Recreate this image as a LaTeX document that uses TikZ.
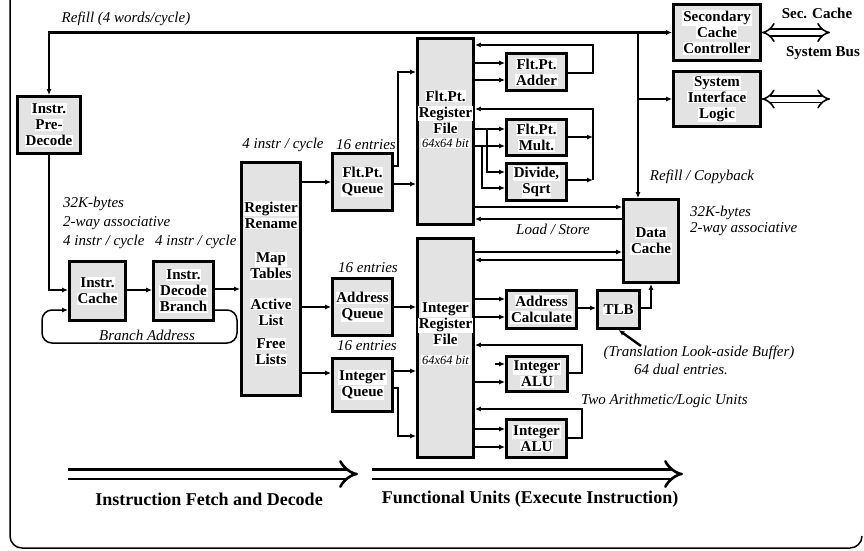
\documentclass[tikz,border=0pt]{standalone}
\usepackage{fontspec}
\setmainfont{Liberation Serif}
\usetikzlibrary{arrows.meta}
\newcommand\boxfnt{\bfseries\fontsize{15}{16}\selectfont}
\newcommand\itfnt{\itshape\fontsize{15}{16}\selectfont}
\newcommand\smfnt{\itshape\fontsize{12.5}{13}\selectfont}
\newcommand\wb[1]{{\setlength\fboxsep{0.8pt}\colorbox{white}{#1}}}
\begin{document}
\begin{tikzpicture}[x=1pt,y=-1pt,
  >={Latex[length=6pt,width=5pt]},
  blk/.style={draw, line width=2.8pt, fill=black!11, inner sep=0pt, align=center, font=\boxfnt},
  txt/.style={inner sep=0pt, align=center, font=\boxfnt},
  itl/.style={inner sep=0pt, font=\itfnt},
  sml/.style={inner sep=0pt, font=\smfnt},
  ln/.style={line width=1.5pt},
  tk/.style={line width=2.4pt},
  dbl/.style={line width=1.6pt, double distance=5pt, {Implies}-{Implies}},
  big/.style={line width=2.6pt, double distance=7pt, -{Implies}}
]
\useasboundingbox (0,0) rectangle (864,550);
% frame
\draw[line width=1.5pt, rounded corners=12pt] (10,0) -- (10,548) -- (862,548) -- (862,536);

% blocks
\node[blk, minimum width=63pt, minimum height=57pt] (predec) at (49,125) {\wb{Instr.}\\\wb{Pre-}\\\wb{Decode}};
\node[blk, minimum width=56pt, minimum height=59pt] (icache) at (97.5,291) {\wb{Instr.}\\\wb{Cache}};
\node[blk, minimum width=60pt, minimum height=59pt] (idec) at (183.5,291) {\wb{Instr.}\\\wb{Decode}\\\wb{Branch}};
\node[blk, minimum width=59pt, minimum height=233pt] (rename) at (271,279) {};
\node[txt] (rr1) at (271,215) {\wb{Register}\\\wb{Rename}};
\node[txt] (rr2) at (271,266) {\wb{Map}\\\wb{Tables}};
\node[txt] (rr3) at (271,312) {\wb{Active}\\\wb{List}};
\node[txt] (rr4) at (271,352) {\wb{Free}\\\wb{Lists}};

\node[blk, minimum width=60pt, minimum height=57pt] (fpq) at (362.5,182) {\wb{Flt.Pt.}\\\wb{Queue}};
\node[blk, minimum width=60pt, minimum height=57pt] (addrq) at (362.5,307) {\wb{Address}\\\wb{Queue}};
\node[blk, minimum width=60pt, minimum height=53pt] (intq) at (362.5,385) {\wb{Integer}\\\wb{Queue}};

\node[blk, minimum width=56pt, minimum height=186pt] (fprf) at (445.5,131.5) {};
\node[txt] (fprft) at (445.5,112) {\wb{Flt.Pt.}\\\wb{Register}\\\wb{File}};
\node[sml, fill=white, inner sep=1pt] (fprfs) at (445.5,143) {64x64 bit};
\node[blk, minimum width=56pt, minimum height=219pt] (intrf) at (445.5,348) {};
\node[txt] (intrft) at (445.5,324) {\wb{Integer}\\\wb{Register}\\\wb{File}};
\node[sml, fill=white, inner sep=1pt] (intrfs) at (445.5,360) {64x64 bit};

\node[blk, minimum width=60pt, minimum height=37pt] (fpadd) at (536.5,72) {\wb{Flt.Pt.}\\\wb{Adder}};
\node[blk, minimum width=60pt, minimum height=36pt] (fpmul) at (536.5,137.5) {\wb{Flt.Pt.}\\\wb{Mult.}};
\node[blk, minimum width=60pt, minimum height=37pt] (fpdiv) at (536.5,182) {\wb{Divide,}\\\wb{Sqrt}};
\node[blk, minimum width=70pt, minimum height=38pt] (addrc) at (541.5,309.5) {\wb{Address}\\\wb{Calculate}};
\node[blk, minimum width=42pt, minimum height=38pt] (tlb) at (618.5,309.5) {\wb{TLB}};
\node[blk, minimum width=61pt, minimum height=35pt] (alu1) at (537,374) {\wb{Integer}\\\wb{ALU}};
\node[blk, minimum width=60pt, minimum height=38pt] (alu2) at (536.5,438.5) {\wb{Integer}\\\wb{ALU}};
\node[blk, minimum width=55pt, minimum height=83pt] (dcache) at (651,241) {\wb{Data}\\\wb{Cache}};
\node[blk, minimum width=87pt, minimum height=56pt] (scc) at (717,32.5) {\wb{Secondary}\\\wb{Cache}\\\wb{Controller}};
\node[blk, minimum width=87pt, minimum height=55pt] (sil) at (717,99) {\wb{System}\\\wb{Interface}\\\wb{Logic}};

% text labels
\node[itl] (trefill) at (126,19) {Refill (4 words/cycle)};
\node[itl, anchor=west] (t32a) at (63,204) {32K-bytes};
\node[itl, anchor=west] (t2wa) at (63,223) {2-way associative};
\node[itl, anchor=west] (t4a) at (63,242) {4 instr / cycle};
\node[itl, anchor=west] (t4b) at (155,242) {4 instr / cycle};
\node[itl] (tbr) at (147,335) {Branch Address};
\node[itl] (t4c) at (283,145) {4 instr / cycle};
\node[itl] (t16a) at (366,145) {16 entries};
\node[itl] (t16b) at (368,268) {16 entries};
\node[itl] (t16c) at (367,346) {16 entries};
\node[itl] (tls) at (553,229) {Load / Store};
\node[itl] (trc) at (702,177) {Refill / Copyback};
\node[itl, anchor=west] (t32b) at (690,213) {32K-bytes};
\node[itl, anchor=west] (t2wb) at (690,229) {2-way associative};
\node[itl] (ttlb1) at (699,353) {(Translation Look-aside Buffer)};
\node[itl] (ttlb2) at (681,369) {64 dual entries.};
\node[itl, anchor=west] (talu) at (581,401) {Two Arithmetic/Logic Units};
\node[txt] (tsec) at (817,13) {Sec. Cache};
\node[txt] (tsys) at (823,53) {System Bus};
\node[inner sep=0pt, font=\bfseries\fontsize{18}{20}\selectfont] (tfetch) at (209,499) {Instruction Fetch and Decode};
\node[inner sep=0pt, font=\bfseries\fontsize{18}{20}\selectfont] (tfunc) at (530,499) {Functional Units (Execute Instruction)};

% coordinates
\coordinate (jr) at (638,32.5);
\coordinate (sb1) at (830,32.5);
\coordinate (sb2) at (830,99);
\coordinate (ba1) at (68,474);
\coordinate (ba2) at (358,474);
\coordinate (ba3) at (372,474);
\coordinate (ba4) at (683,474);
\coordinate (tp) at (641,346);
\coordinate (stub) at (495,364);

% refill bus
\draw[tk,<->] (scc.west) -| (predec.north);
\draw[tk,->] (jr) -- (jr |- dcache.north);
\draw[ln,->] (jr |- sil.west) -- (sil.west);
\draw[dbl] (scc.east) -- (sb1);
\draw[dbl] (sil.east) -- (sb2);

% fetch / decode
\draw[tk,->] (predec.south) |- (icache.west |- 0,290);
\draw[tk,->] (icache.east |- 0,290) -- (idec.west |- 0,290);
\draw[tk,->] (idec.east |- 0,289) -- (rename.west |- 0,289);
\draw[ln,->, rounded corners=10pt] (idec.east |- 0,310) -- (237,310) -- (237,343) -- (42,343) -- (42,310) -- (icache.west |- 0,310);

% rename to queues
\draw[ln,->] (rename.east |- fpq.west) -- (fpq.west);
\draw[ln,->] (rename.east |- addrq.west) -- (addrq.west);
\draw[ln,->] (rename.east |- 0,373) -- (intq.west |- 0,373);

% queues to register files
\draw[ln,->] (fpq.east |- 0,184) -- (fprf.west |- 0,184);
\draw[ln,->] (fpq.east |- 0,166) -- (398,166) |- (fprf.west |- 0,72);
\draw[ln,->] (addrq.east) -- (intrf.west |- addrq.east);
\draw[ln,->] (intq.east |- 0,371) -- (intrf.west |- 0,371);
\draw[ln,->] (intq.east |- 0,388) -- (398,388) |- (intrf.west |- 0,436);

% FP units
\draw[ln,->] (fprf.east |- 0,63) -- (fpadd.west |- 0,63);
\draw[ln,->] (fprf.east |- 0,80) -- (fpadd.west |- 0,80);
\draw[tk,->] (fpadd.east |- 0,73) -| (593,45) -- (fprf.east |- 0,45);
\draw[ln,->] (fprf.east |- 0,129) -- (fpmul.west |- 0,129);
\draw[ln,->] (fprf.east |- 0,146) -- (fpmul.west |- 0,146);
\draw[ln,->] (487,129) |- (fpdiv.west |- 0,172);
\draw[ln,->] (482,146) |- (fpdiv.west |- 0,188);
\draw[tk,->] (fpmul.east |- 0,137) -- (593,137);
\draw[tk,->] (fpdiv.east |- 0,180) -- (593,180);
\draw[tk,->] (593,180) |- (fprf.east |- 0,109);

% data cache
\draw[ln,->] (fprf.east |- 0,207) -- (dcache.west |- 0,207);
\draw[ln,->] (dcache.west |- 0,219) -- (fprf.east |- 0,219);
\draw[tk,->] (intrf.east |- 0,252) -- (dcache.west |- 0,252);
\draw[tk,->] (dcache.west |- 0,260) -- (intrf.east |- 0,260);

% integer units
\draw[ln,->] (intrf.east |- 0,299) -- (addrc.west |- 0,299);
\draw[ln,->] (intrf.east |- 0,317) -- (addrc.west |- 0,317);
\draw[tk,->] (addrc.east |- 0,308) -- (tlb.west |- 0,308);
\draw[ln,->] (tlb.east |- 0,308) -| (dcache.south);
\draw[tk,->] (tp) -- (tlb.south);
\draw[ln,->] (stub) -- (alu1.west |- stub);
\draw[tk,->] (intrf.east |- 0,382) -- (alu1.west |- 0,382);
\draw[ln,->] (alu1.east |- 0,373) -| (582,345) -- (intrf.east |- 0,345);
\draw[tk,->] (intrf.east |- 0,429) -- (alu2.west |- 0,429);
\draw[ln,->] (intrf.east |- 0,447) -- (alu2.west |- 0,447);
\draw[ln,->] (alu2.east |- 0,438) -| (582,409) -- (intrf.east |- 0,409);

% big arrows
\draw[big] (ba1) -- (ba2);
\draw[big] (ba3) -- (ba4);
\end{tikzpicture}
\end{document}
